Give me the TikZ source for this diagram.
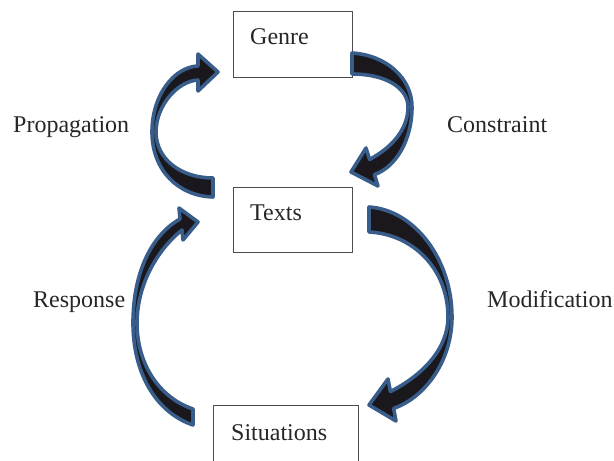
\documentclass[tikz,border=0pt]{standalone}
\usepackage{fontspec}
\setmainfont{Liberation Serif}
\definecolor{arrowblue}{RGB}{56,93,138}
\definecolor{arrowfill}{RGB}{26,24,28}
\tikzset{
  box/.style={draw=black!70, line width=0.9pt, rectangle, inner sep=0pt},
  word/.style={anchor=base west, inner sep=0pt, font=\fontsize{24}{28}\selectfont, text=black!85},
  bentarrow/.style={fill=arrowfill, draw=arrowblue, line width=3.6pt, line join=round}
}
\begin{document}
\begin{tikzpicture}[x=1pt, y=-1pt]
\useasboundingbox (0,0) rectangle (614,461);

% boxes
\node[box, minimum width=119pt, minimum height=66pt] (genrebox) at (292.5,44) {};
\node[box, minimum width=119pt, minimum height=65pt] (textsbox) at (292.5,219.5) {};
\node[box, minimum width=145pt, minimum height=66pt] (sitbox) at (285.5,438) {};

\node[word] (genre) at (250,44) {Genre};
\node[word] (texts) at (250,220) {Texts};
\node[word] (situations) at (231,440) {Situations};

% side labels
\node[word] (propagation) at (13,132) {Propagation};
\node[word] (constraint) at (447,132) {Constraint};
\node[word] (response) at (33,307) {Response};
\node[word] (modification) at (487,307) {Modification};

% Texts -> Genre (upper left)
\draw[bentarrow]
  (213,197) .. controls (178,196) and (152,170) .. (152,132)
  .. controls (152,95) and (174,67) .. (198,66)
  -- (198,54) -- (218,72) -- (198,91) -- (198,80)
  .. controls (178,81) and (156,105) .. (156,132)
  .. controls (156,160) and (182,178) .. (213,178) -- cycle;

% Genre -> Texts (upper right)
\draw[bentarrow]
  (352,53) .. controls (386,55) and (412,78) .. (412,107)
  .. controls (412,140) and (396,167) .. (374.4,174.6)
  -- (378,186) -- (351,172) -- (366,148) -- (369.6,159.4)
  .. controls (391,148) and (408,130) .. (408,107)
  .. controls (408,88) and (386,74) .. (352,74) -- cycle;

% Situations -> Texts (lower left)
\draw[bentarrow]
  (193,425) .. controls (155,412) and (133,372) .. (133,323)
  .. controls (133,275) and (150,236) .. (180,219)
  -- (179,208) -- (198,222) -- (183,240) -- (182,230)
  .. controls (157,250) and (137,285) .. (137,323)
  .. controls (137,365) and (160,398) .. (193,409) -- cycle;

% Texts -> Situations (lower right)
\draw[bentarrow]
  (369,207) .. controls (415,210) and (452,260) .. (452,317)
  .. controls (452,360) and (426,397) .. (393.6,408.4)
  -- (396,421) -- (369,405) -- (388,379) -- (390.4,391.6)
  .. controls (421,376) and (448,350) .. (448,317)
  .. controls (448,268) and (412,234) .. (369,232) -- cycle;
\end{tikzpicture}
\end{document}
